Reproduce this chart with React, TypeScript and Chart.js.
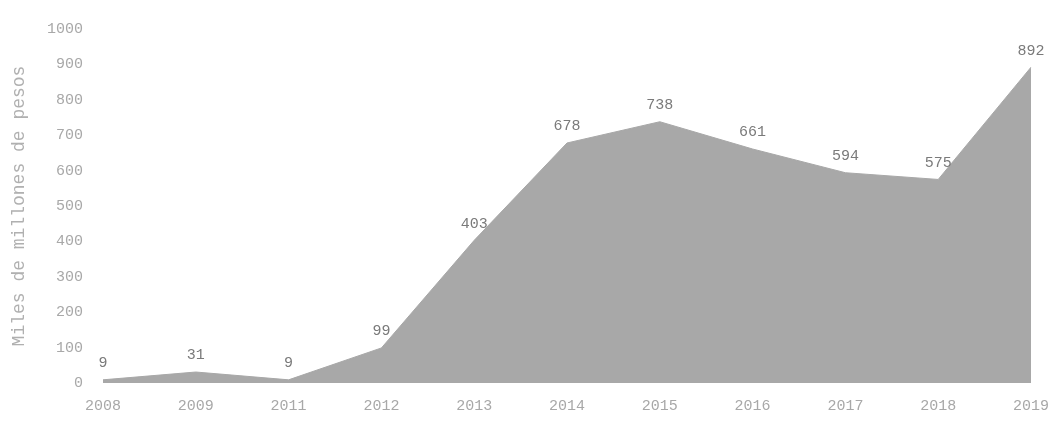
import React, { useEffect, useRef } from "react";
import { Chart, registerables } from "chart.js";

Chart.register(...registerables);

const years = ["2008", "2009", "2011", "2012", "2013", "2014", "2015", "2016", "2017", "2018", "2019"];
const values = [9, 31, 9, 99, 403, 678, 738, 661, 594, 575, 892];
const yTitle = "Miles de millones de pesos";

const FONT = "'Liberation Mono', 'DejaVu Sans Mono', monospace";

const labelPlugin = {
  id: "valueLabels",
  afterDatasetsDraw(chart: any) {
    const ctx = chart.ctx;
    const meta = chart.getDatasetMeta(0);
    ctx.save();
    ctx.font = `15px ${FONT}`;
    ctx.fillStyle = "#7a7a7a";
    ctx.textAlign = "center";
    ctx.textBaseline = "bottom";
    meta.data.forEach((pt: any, i: number) => {
      ctx.fillText(String(values[i]), pt.x, pt.y - 9);
    });
    ctx.restore();
  },
};

export default function App() {
  const ref = useRef<HTMLCanvasElement | null>(null);
  useEffect(() => {
    document.body.style.margin = "0";
    const chart = new Chart(ref.current as HTMLCanvasElement, {
      type: "line",
      data: {
        labels: years,
        datasets: [
          {
            data: values,
            fill: "origin",
            backgroundColor: "#a8a8a8",
            borderColor: "#a8a8a8",
            borderWidth: 1,
            pointRadius: 0,
            tension: 0,
          },
        ],
      },
      options: {
        animation: false,
        responsive: false,
        layout: { padding: { top: 20, right: 28, left: 0, bottom: 0 } },
        plugins: { legend: { display: false }, tooltip: { enabled: false } },
        scales: {
          x: {
            offset: false,
            grid: { display: false, drawTicks: false },
            border: { display: false },
            ticks: { color: "#a8a8a8", font: { family: FONT, size: 15 }, padding: 14, maxRotation: 0 },
            afterFit: (s: any) => {
              s.height = 46;
            },
          },
          y: {
            min: 0,
            max: 1000,
            grid: { display: false, drawTicks: false },
            border: { display: false },
            ticks: {
              stepSize: 100,
              color: "#a8a8a8",
              font: { family: FONT, size: 15 },
              padding: 20,
              callback: (v: any) => String(v),
            },
            title: {
              display: true,
              text: yTitle,
              color: "#b0b0b0",
              font: { family: FONT, size: 18, weight: "normal" },
              padding: { top: 8, bottom: 0 },
            },
            afterFit: (s: any) => {
              s.width = 103;
            },
          },
        },
      },
      plugins: [labelPlugin],
    });
    return () => chart.destroy();
  }, []);
  return (
    <div style={{ position: "absolute", left: 0, top: 0, width: 1063, height: 429 }}>
      <canvas ref={ref} width={1063} height={429} />
    </div>
  );
}
